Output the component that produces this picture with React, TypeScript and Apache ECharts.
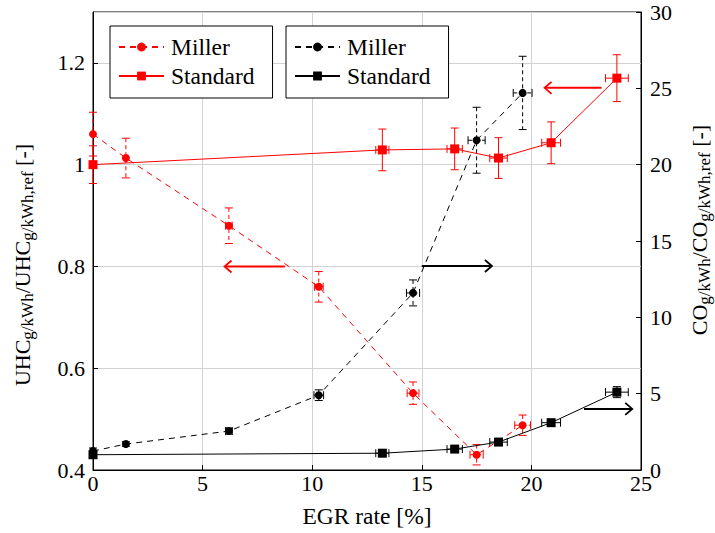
import React, { useEffect, useRef } from 'react';
import * as echarts from 'echarts';

const FONT = 'Liberation Serif, DejaVu Serif, serif';
const RED = '#ff0000';
const BLACK = '#000000';
const GRID = '#d2d2d2';

// EGR rate [%]
const xMiller = [0, 1.5, 6.2, 10.3, 14.6, 17.5, 19.6];
const xStandard = [0, 13.2, 16.5, 18.5, 20.9, 23.9];

// UHC ratio (left axis)
const uhcMiller = [1.06, 1.013, 0.88, 0.76, 0.551, 0.43, 0.488];
const uhcMillerErrY = [0.043, 0.039, 0.035, 0.03, 0.022, 0.02, 0.02];
const uhcMillerErrX = [0, 0, 0.15, 0.2, 0.27, 0.3, 0.36];
const uhcStandard = [1.0, 1.029, 1.031, 1.013, 1.043, 1.17];
const uhcStandardErrY = [0.037, 0.041, 0.041, 0.04, 0.041, 0.046];
const standardErrX = [0, 0.3, 0.35, 0.4, 0.43, 0.52];

// CO ratio (right axis)
const coMiller = [1.24, 1.7, 2.55, 4.9, 11.6, 21.6, 24.7];
const coMillerErrY = [0.2, 0.15, 0.2, 0.35, 0.85, 2.16, 2.4];
const coMillerErrX = [0, 0, 0.15, 0.22, 0.3, 0.39, 0.43];
const coStandard = [1.0, 1.1, 1.37, 1.83, 3.1, 5.1];
const coStandardErrY = [0.15, 0.15, 0.15, 0.2, 0.2, 0.36];

// Arrows: [fromX, toX, y]
const uhcArrows = [[8.75, 6.0, 0.8], [23.2, 20.6, 1.151]];
const coArrows = [[15.0, 18.2, 13.36], [22.4, 24.6, 4.0]];

// Tick settings
const xTicks = { min: 0, max: 25, interval: 5 };
const uhcTicks = { min: 0.4, max: 1.3, interval: 0.2 };
const coTicks = { min: 0, max: 30, interval: 5 };

const pts = (xs: number[], ys: number[]) => xs.map((x, i) => [x, ys[i]]);
const errRows = (xs: number[], ys: number[], ex: number[], ey: number[]) =>
  xs.map((x, i) => [x, ys[i], ex[i], ey[i]]);

function errorBarRenderer(color: string, dashed: boolean) {
  return (params: any, api: any) => {
    const x = api.value(0);
    const y = api.value(1);
    const ex = api.value(2);
    const ey = api.value(3);
    const cap = 4;
    const barStyle: any = { stroke: color, lineWidth: 1, fill: null };
    if (dashed) barStyle.lineDash = [4, 3];
    const capStyle: any = { stroke: color, lineWidth: 1, fill: null };
    const children: any[] = [];
    if (ey > 0) {
      const t = api.coord([x, y + ey]);
      const b = api.coord([x, y - ey]);
      children.push({ type: 'line', shape: { x1: t[0], y1: t[1], x2: b[0], y2: b[1] }, style: barStyle });
      children.push({ type: 'line', shape: { x1: t[0] - cap, y1: t[1], x2: t[0] + cap, y2: t[1] }, style: capStyle });
      children.push({ type: 'line', shape: { x1: b[0] - cap, y1: b[1], x2: b[0] + cap, y2: b[1] }, style: capStyle });
    }
    if (ex > 0) {
      const l = api.coord([x - ex, y]);
      const r = api.coord([x + ex, y]);
      children.push({ type: 'line', shape: { x1: l[0], y1: l[1], x2: r[0], y2: r[1] }, style: barStyle });
      children.push({ type: 'line', shape: { x1: l[0], y1: l[1] - cap, x2: l[0], y2: l[1] + cap }, style: capStyle });
      children.push({ type: 'line', shape: { x1: r[0], y1: r[1] - cap, x2: r[0], y2: r[1] + cap }, style: capStyle });
    }
    return { type: 'group', children };
  };
}

function arrowRenderer(color: string) {
  return (params: any, api: any) => {
    const p1 = api.coord([api.value(0), api.value(2)]);
    const p2 = api.coord([api.value(1), api.value(2)]);
    const dir = p2[0] > p1[0] ? 1 : -1;
    const h = 7;
    const w = 6;
    const style = { stroke: color, lineWidth: 2, fill: null };
    return {
      type: 'group',
      children: [
        { type: 'line', shape: { x1: p1[0], y1: p1[1], x2: p2[0] - dir, y2: p2[1] }, style },
        {
          type: 'polyline',
          shape: { points: [[p2[0] - dir * h, p2[1] - w], [p2[0], p2[1]], [p2[0] - dir * h, p2[1] + w]] },
          style: { ...style, lineWidth: 1.8 },
        },
      ],
    };
  };
}

const WORD_SIZE = 23.5;
const serifText = { fontFamily: FONT, fontSize: 22, color: '#000', fill: '#000' };
const tickLabel = {
  fontFamily: FONT,
  fontSize: 22,
  color: '#000',
  formatter: '{a|{value}}',
  rich: { a: serifText },
};

function axisTitle(main1: string, sub1: string, main2: string, sub2: string, tail: string) {
  return `{m|${main1}}{s|${sub1}}{m|${main2}}{s|${sub2}}{m|${tail}}`;
}
const titleRich = {
  m: { fontFamily: FONT, fontSize: 22, lineHeight: 28, fill: '#000' },
  s: { fontFamily: FONT, fontSize: 17, verticalAlign: 'bottom', fill: '#000' },
};

export default function App() {
  const ref = useRef<HTMLDivElement>(null);
  useEffect(() => {
    if (!ref.current) return;
    const chart = echarts.init(ref.current, null, { renderer: 'svg' });
    const legendBase = {
      orient: 'vertical',
      top: 26,
      borderColor: '#000',
      borderWidth: 1,
      borderRadius: 0,
      padding: [9, 18, 10, 8],
      itemWidth: 45,
      itemHeight: 11,
      itemGap: 5,
      backgroundColor: '#fff',
      selectedMode: false,
      formatter: (n: string) => `{a|${n.split(' ')[1]}}`,
      textStyle: {
        fontFamily: FONT,
        fontSize: WORD_SIZE,
        color: '#000',
        lineHeight: 22,
        rich: { a: { ...serifText, fontSize: WORD_SIZE, lineHeight: 22, padding: [0, 0, 0, 2] } },
      },
    };
    const option: any = {
      animation: false,
      backgroundColor: '#fff',
      textStyle: { fontFamily: FONT },
      grid: {
        left: 93,
        right: 74,
        top: 12,
        bottom: 63,
        containLabel: false,
        outerBoundsMode: 'none',
        show: true,
        borderColor: '#000',
        borderWidth: 1,
        backgroundColor: 'transparent',
      },
      legend: [
        { ...legendBase, left: 110, data: ['UHC Miller', 'UHC Standard'] },
        { ...legendBase, left: 286, data: ['CO Miller', 'CO Standard'] },
      ],
      xAxis: {
        type: 'value',
        ...xTicks,
        axisLine: { show: true, onZero: false, lineStyle: { color: '#000', width: 1 } },
        axisTick: { show: true, inside: true, length: 5, lineStyle: { color: '#000' } },
        axisLabel: { ...tickLabel, margin: 2 },
        splitLine: { show: true, lineStyle: { color: GRID, width: 1 } },
      },
      yAxis: [
        {
          type: 'value',
          position: 'left',
          ...uhcTicks,
          axisLine: { show: true, onZero: false, lineStyle: { color: '#000', width: 1 } },
          axisTick: { show: true, inside: true, length: 5, lineStyle: { color: '#000' } },
          axisLabel: { ...tickLabel, margin: 8, showMaxLabel: false },
          splitLine: { show: true, lineStyle: { color: GRID, width: 1 } },
        },
        {
          type: 'value',
          position: 'right',
          ...coTicks,
          axisLine: { show: true, onZero: false, lineStyle: { color: '#000', width: 1 } },
          axisTick: { show: true, inside: true, length: 5, lineStyle: { color: '#000' } },
          axisLabel: { ...tickLabel, margin: 9 },
          splitLine: { show: false },
        },
      ],
      graphic: [
        {
          type: 'text',
          x: 367,
          y: 516,
          style: {
            text: '{m|EGR rate [%]}',
            align: 'center',
            verticalAlign: 'middle',
            fontFamily: FONT,
            rich: { m: { fontFamily: FONT, fontSize: WORD_SIZE, fill: '#000' } },
          },
        },
        {
          type: 'text',
          x: 22,
          y: 265,
          rotation: Math.PI / 2,
          style: {
            text: axisTitle('UHC', 'g/kWh', '/UHC', 'g/kWh,ref', ' [-]'),
            align: 'center',
            verticalAlign: 'middle',
            fontFamily: FONT,
            rich: titleRich,
          },
        },
        {
          type: 'text',
          x: 699,
          y: 230,
          rotation: Math.PI / 2,
          style: {
            text: axisTitle('CO', 'g/kWh', '/CO', 'g/kWh,ref', ' [-]'),
            align: 'center',
            verticalAlign: 'middle',
            fontFamily: FONT,
            rich: titleRich,
          },
        },
      ],
      series: [
        {
          name: 'UHC-err-miller',
          type: 'custom',
          yAxisIndex: 0,
          z: 2,
          renderItem: errorBarRenderer(RED, true),
          encode: { x: 0, y: 1 },
          data: errRows(xMiller, uhcMiller, uhcMillerErrX, uhcMillerErrY),
        },
        {
          name: 'UHC-err-standard',
          type: 'custom',
          yAxisIndex: 0,
          z: 2,
          renderItem: errorBarRenderer(RED, false),
          encode: { x: 0, y: 1 },
          data: errRows(xStandard, uhcStandard, standardErrX, uhcStandardErrY),
        },
        {
          name: 'CO-err-miller',
          type: 'custom',
          yAxisIndex: 1,
          z: 2,
          renderItem: errorBarRenderer(BLACK, true),
          encode: { x: 0, y: 1 },
          data: errRows(xMiller, coMiller, coMillerErrX, coMillerErrY),
        },
        {
          name: 'CO-err-standard',
          type: 'custom',
          yAxisIndex: 1,
          z: 2,
          renderItem: errorBarRenderer(BLACK, false),
          encode: { x: 0, y: 1 },
          data: errRows(xStandard, coStandard, standardErrX, coStandardErrY),
        },
        {
          name: 'UHC Miller',
          type: 'line',
          yAxisIndex: 0,
          z: 3,
          symbol: 'circle',
          symbolSize: 8,
          itemStyle: { color: RED },
          lineStyle: { color: RED, width: 1, type: [6, 5] },
          data: pts(xMiller, uhcMiller),
        },
        {
          name: 'UHC Standard',
          type: 'line',
          yAxisIndex: 0,
          z: 3,
          symbol: 'rect',
          symbolSize: 9,
          itemStyle: { color: RED },
          lineStyle: { color: RED, width: 1, type: 'solid' },
          data: pts(xStandard, uhcStandard),
        },
        {
          name: 'CO Miller',
          type: 'line',
          yAxisIndex: 1,
          z: 3,
          symbol: 'circle',
          symbolSize: 8,
          itemStyle: { color: BLACK },
          lineStyle: { color: BLACK, width: 1, type: [6, 5] },
          data: pts(xMiller, coMiller),
        },
        {
          name: 'CO Standard',
          type: 'line',
          yAxisIndex: 1,
          z: 3,
          symbol: 'rect',
          symbolSize: 9,
          itemStyle: { color: BLACK },
          lineStyle: { color: BLACK, width: 1, type: 'solid' },
          data: pts(xStandard, coStandard),
        },
        {
          name: 'UHC-arrows',
          type: 'custom',
          yAxisIndex: 0,
          z: 4,
          renderItem: arrowRenderer(RED),
          encode: { x: [0, 1], y: 2 },
          data: uhcArrows,
        },
        {
          name: 'CO-arrows',
          type: 'custom',
          yAxisIndex: 1,
          z: 4,
          renderItem: arrowRenderer(BLACK),
          encode: { x: [0, 1], y: 2 },
          data: coArrows,
        },
      ],
    };
    chart.setOption(option);
    return () => chart.dispose();
  }, []);
  return (
    <div
      ref={ref}
      style={{ position: 'absolute', left: 0, top: 0, width: 715, height: 533, background: '#fff' }}
    />
  );
}
